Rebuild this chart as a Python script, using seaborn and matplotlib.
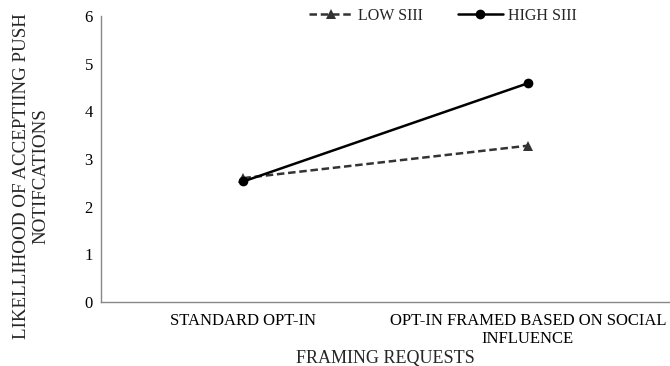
import pandas as pd
import matplotlib.pyplot as plt
import seaborn as sns

# Данные
framing = ['STANDARD OPT-IN', 'OPT-IN FRAMED BASED ON SOCIAL\nINFLUENCE']
low_siii = [2.6, 3.28]
high_siii = [2.53, 4.59]

df = pd.DataFrame({
    'framing': framing * 2,
    'score': low_siii + high_siii,
    'group': ['LOW SIII'] * 2 + ['HIGH SIII'] * 2,
})

sns.set_style('white')
plt.rcParams['font.family'] = ['Liberation Serif', 'DejaVu Serif']

fig = plt.figure(figsize=(6.7, 3.66), dpi=100)
ax = fig.add_axes([0.151, 0.175, 0.849, 0.781])

sns.lineplot(data=df, x='framing', y='score', hue='group', style='group',
             palette={'LOW SIII': '#333333', 'HIGH SIII': 'black'},
             dashes={'LOW SIII': (3, 1.5), 'HIGH SIII': ''},
             markers={'LOW SIII': '^', 'HIGH SIII': 'o'},
             markersize=7, linewidth=1.8, markeredgewidth=0, ax=ax)

ax.set_xlim(-0.5, 1.5)
ax.set_ylim(0, 6)
ax.set_yticks(range(7))
ax.set_xlabel('FRAMING REQUESTS', fontsize=13, labelpad=2)
ax.set_ylabel('LIKELLIHOOD OF ACCEPTIING PUSH\nNOTIFCATIONS', fontsize=13.7, linespacing=1.2)
ax.yaxis.set_label_coords(-0.091, 0.44)
ax.tick_params(axis='both', labelsize=12, colors='black')
ax.tick_params(axis='y', length=4, color='#888888', pad=2)
ax.tick_params(axis='x', length=3, color='#888888', direction='in', pad=8)

for s in ['top', 'right']:
    ax.spines[s].set_visible(False)
for s in ['left', 'bottom']:
    ax.spines[s].set_color('#888888')
    ax.spines[s].set_linewidth(1)

leg = ax.legend(loc='upper center', bbox_to_anchor=(0.6, 1.08), ncol=2, frameon=False,
                fontsize=11.5, handlelength=2.8, columnspacing=2.2, handletextpad=0.3)

fig.savefig('out.png', dpi=100)
